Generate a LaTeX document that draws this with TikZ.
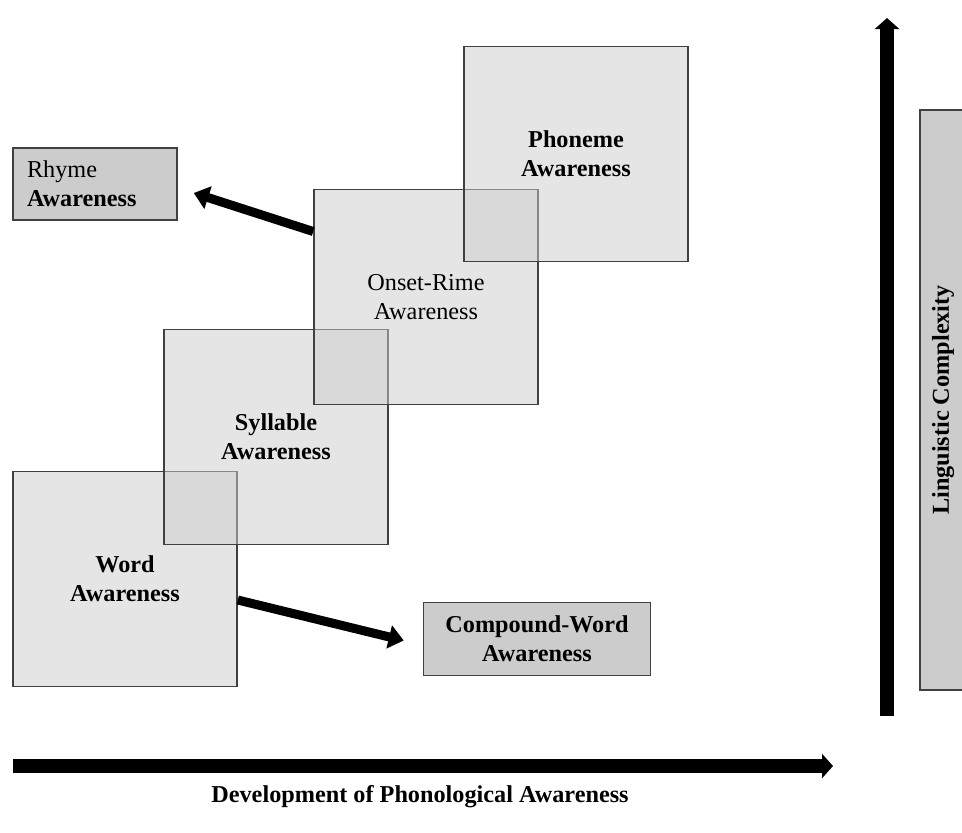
\documentclass[tikz,border=0pt]{standalone}
\usepackage{fontspec}
\setmainfont{Liberation Serif}
\usetikzlibrary{arrows.meta}

\begin{document}
\begin{tikzpicture}[
    x=0.02cm, y=-0.02cm,
    font=\fontsize{13.8}{16.5}\selectfont,
    level/.style={draw=black!75, line width=0.9pt, fill=black!20, fill opacity=0.5,
      text opacity=1, minimum width=4.48cm, minimum height=4.3cm, align=center, inner sep=0pt},
    side/.style={draw=black!75, line width=0.9pt, fill=black!20, inner sep=0pt},
    fat/.style={line width=0.18cm, -{Triangle[length=0.3cm,width=0.46cm]}},
    axis/.style={line width=0.27cm, -{Triangle[length=0.22cm,width=0.48cm]}}
  ]
  \useasboundingbox (0,0) rectangle (962,832);
  % stages
  \node[level] (word) at (125,579) {\textbf{Word}\\\textbf{Awareness}};
  \node[level] (syllable) at (276,437) {\textbf{Syllable}\\\textbf{Awareness}};
  \node[level] (onset) at (426,297) {Onset-Rime\\Awareness};
  \node[level] (phoneme) at (576,154) {\textbf{Phoneme}\\\textbf{Awareness}};
  % side boxes
  \node[side, minimum width=3.28cm, minimum height=1.44cm, text width=2.72cm,
    inner xsep=0.28cm, align=left] (rhyme) at (95,184) {Rhyme\\\textbf{Awareness}};
  \node[side, minimum width=4.54cm, minimum height=1.46cm, align=center]
    (compound) at (537,639) {\textbf{Compound-Word}\\\textbf{Awareness}};
  \node[side, rotate=90, minimum width=11.6cm, minimum height=0.92cm]
    (complexity) at (943,400) {\textbf{Linguistic Complexity}};
  \node (development) at (420,797) {\textbf{Development of Phonological Awareness}};
  % axes
  \coordinate (h0) at (13,766);
  \coordinate (h1) at (833,766);
  \coordinate (v0) at (887,716);
  \coordinate (v1) at (887,18);
  \begin{scope}
    \draw[axis] (h0) -- (h1);
    \draw[axis] (v0) -- (v1);
    \draw[fat] ([yshift=1.31cm]onset.west) -- ([xshift=0.32cm,yshift=-0.18cm]rhyme.east);
    \draw[fat] ([yshift=-0.42cm]word.east) -- ([xshift=-0.38cm,yshift=-0.03cm]compound.west);
  \end{scope}
\end{tikzpicture}
\end{document}
